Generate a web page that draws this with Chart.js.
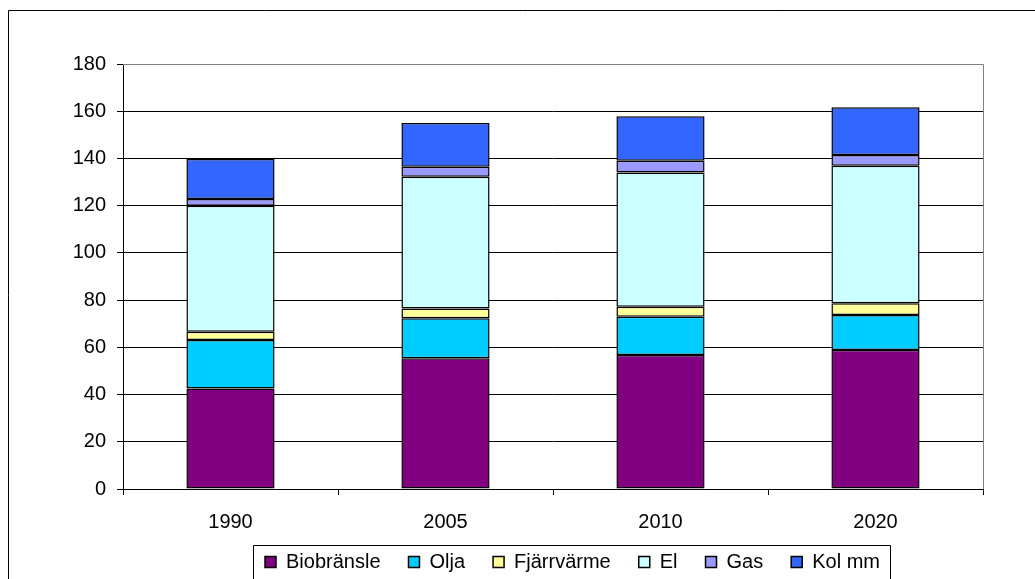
<!DOCTYPE html>
<html>
<head>
<meta charset="utf-8">
<script src="https://cdn.jsdelivr.net/npm/chart.js@4.4.1/dist/chart.umd.min.js"></script>
<style>
html,body{margin:0;padding:0;background:#fff;}
#wrap{width:1035px;height:579px;position:relative;}
</style>
</head>
<body>
<div id="wrap"><canvas id="c" width="1035" height="579"></canvas></div>
<script>
// ---- data ----
const years = ['1990', '2005', '2010', '2020'];
const biobransle = [42.6, 55.4, 56.8, 58.9];
const olja = [20.5, 16.9, 16.2, 14.8];
const fjarrvarme = [3.5, 4.2, 4.2, 5.0];
const el = [53.4, 55.8, 56.9, 58.2];
const gas = [2.8, 4.2, 4.9, 4.6];
const kolmm = [17.0, 18.5, 18.9, 20.2];
const seriesNames = ['Biobränsle', 'Olja', 'Fjärrvärme', 'El', 'Gas', 'Kol mm'];
const seriesColors = ['#800080', '#00CCFF', '#FFFF99', '#CCFFFF', '#9999FF', '#3366FF'];
const yMin = 0, yMax = 180, yStep = 20;

const FONT = "'Liberation Sans', Arial, sans-serif";
const seriesValues = [biobransle, olja, fjarrvarme, el, gas, kolmm];

const frame = {
  id: 'frame',
  afterLayout(chart) {
    const lg = chart.legend;
    const pad = lg.options.labels.padding;
    lg.left = 265 - pad;
    lg.right = 1035;
    lg.width = lg.right - lg.left;
    lg.top = 552 - pad;
    lg.bottom = 600;
    lg.height = lg.bottom - lg.top;
  },
  beforeDraw(chart) {
    const ctx = chart.ctx;
    ctx.save();
    ctx.fillStyle = '#fff';
    ctx.fillRect(0, 0, chart.width, chart.height);
    ctx.strokeStyle = '#000';
    ctx.lineWidth = 1;
    ctx.beginPath();
    ctx.moveTo(8.5, 600);
    ctx.lineTo(8.5, 10.5);
    ctx.lineTo(1040, 10.5);
    ctx.stroke();
    // legend box
    ctx.beginPath();
    ctx.moveTo(253.5, 600);
    ctx.lineTo(253.5, 545.5);
    ctx.lineTo(890.5, 545.5);
    ctx.lineTo(890.5, 600);
    ctx.stroke();
    ctx.restore();
  },
  beforeDatasetsDraw(chart) {
    const ctx = chart.ctx;
    const a = chart.chartArea;
    ctx.save();
    ctx.strokeStyle = '#808080';
    ctx.lineWidth = 1;
    ctx.beginPath();
    ctx.moveTo(a.left, Math.round(a.top) + 0.5);
    ctx.lineTo(Math.round(a.right) + 0.5, Math.round(a.top) + 0.5);
    ctx.lineTo(Math.round(a.right) + 0.5, a.bottom);
    ctx.stroke();
    ctx.restore();
  }
};

new Chart(document.getElementById('c'), {
  type: 'bar',
  data: {
    labels: years,
    datasets: seriesNames.map((n, i) => ({
      label: n,
      data: seriesValues[i],
      backgroundColor: seriesColors[i],
      borderColor: '#000',
      borderWidth: 1.5,
      borderSkipped: false,
      barPercentage: 0.41,
      categoryPercentage: 1.0
    }))
  },
  options: {
    responsive: false,
    animation: false,
    devicePixelRatio: 1,
    layout: { padding: { left: 0, right: 52, top: 64, bottom: 10 } },
    plugins: {
      legend: {
        position: 'bottom',
        align: 'start',
        maxHeight: 40,
        labels: {
          font: { family: FONT, size: 20 },
          color: '#000',
          boxWidth: 11,
          boxHeight: 11,
          padding: 28
        }
      },
      tooltip: { enabled: false },
      title: { display: false }
    },
    scales: {
      x: {
        stacked: true,
        grid: { display: true, drawOnChartArea: false, offset: true, color: '#000', tickLength: 6, tickColor: '#000' },
        border: { color: '#000', width: 1 },
        ticks: { font: { family: FONT, size: 20 }, color: '#000', padding: 15 },
        afterFit(s) { s.height = 40; }
      },
      y: {
        stacked: true,
        min: yMin, max: yMax,
        grid: { color: '#000', tickLength: 6, tickColor: '#000', lineWidth: 1 },
        border: { color: '#000', width: 1 },
        ticks: { stepSize: yStep, font: { family: FONT, size: 20 }, color: '#000', padding: 11 },
        afterFit(s) { s.width = 123; }
      }
    }
  },
  plugins: [frame]
});
</script>
</body>
</html>
